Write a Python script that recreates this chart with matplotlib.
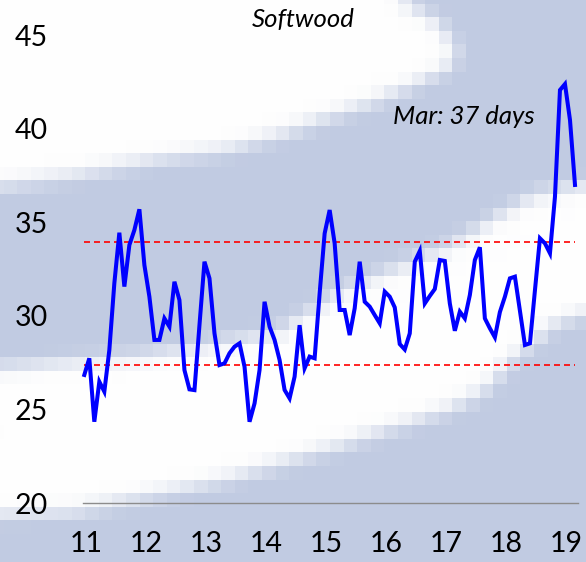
import numpy as np
import matplotlib
matplotlib.use("Agg")
import matplotlib.pyplot as plt

# ---------------- data ----------------
year_labels = ["11", "12", "13", "14", "15", "16", "17", "18", "19"]
softwood_days = [
    26.84, 27.73, 24.34, 26.48, 25.95, 28.17, 31.74, 34.44, 31.56, 33.78, 34.58, 35.69,   # 2011
    32.71, 31.02, 28.71, 28.71, 29.86, 29.42, 31.82, 30.84, 27.10, 26.07, 26.03, 29.50,   # 2012
    32.89, 32.00, 29.06, 27.37, 27.46, 28.00, 28.35, 28.53, 27.28, 24.34, 25.32, 27.10,   # 2013
    30.75, 29.42, 28.71, 27.64, 26.04, 25.59, 26.75, 29.50, 27.20, 27.82, 27.73, 31.20,   # 2014
    34.40, 35.65, 33.87, 30.31, 30.31, 28.97, 30.40, 32.89, 30.75, 30.49, 30.04, 29.60,   # 2015
    31.29, 31.02, 30.45, 28.49, 28.20, 29.06, 32.89, 33.46, 30.66, 31.06, 31.43, 32.98,   # 2016
    32.93, 30.66, 29.20, 30.22, 29.86, 31.11, 32.98, 33.66, 29.86, 29.33, 28.85, 30.20,   # 2017
    31.02, 32.00, 32.09, 30.27, 28.44, 28.53, 31.36, 34.14, 33.87, 33.34, 36.36, 42.06,   # 2018
    42.38, 40.46, 36.99,                                                                  # 2019
]
upper_band = 33.93
lower_band = 27.37
y_ticks = [20, 25, 30, 35, 40, 45]
title_text = "Softwood"
note_text = "Mar: 37 days"

# ---------------- figure ----------------
W, H = 586, 562
fig = plt.figure(figsize=(W / 100, H / 100), dpi=100)

# decorative blocky background (white swooshes on light blue)
Y, X = np.mgrid[0:H, 0:W].astype(float) + 0.5
gy = [0, 20, 50, 67, 83, 100, 117, 133, 150, 160, 175, 186]
gx = [400, 436, 458, 450, 418, 380, 330, 285, 228, 155, 78, 0]
A = (Y <= 186) & (X < np.interp(Y, gy, gx))
ux = [0, 150, 280, 340, 374, 450, 500, 533, 586]
uy = [368, 355, 332, 292, 277, 247, 215, 195, 185]
lx = [0, 75, 224, 336, 448, 486, 517, 550, 586]
ly = [515, 512, 480, 447, 410, 390, 355, 327, 313]
B = (Y > np.interp(X, ux, uy)) & (Y < np.interp(X, lx, ly))
m = (A | B).astype(float)


def box_blur(a, r):
    p = np.pad(a, ((r + 1, r), (0, 0)), mode="edge")
    c = np.cumsum(p, axis=0)
    a = (c[2 * r + 1:] - c[:-2 * r - 1]) / (2 * r + 1)
    p = np.pad(a, ((0, 0), (r + 1, r)), mode="edge")
    c = np.cumsum(p, axis=1)
    return (c[:, 2 * r + 1:] - c[:, :-2 * r - 1]) / (2 * r + 1)


m = box_blur(box_blur(m, 8), 8)
blk, ph = 13.6, 3.7
cy = np.clip((np.floor((np.arange(H) + 0.5 - ph) / blk) + 0.5) * blk + ph, 0, H - 1).astype(int)
cx = np.clip((np.floor((np.arange(W) + 0.5 - ph) / blk) + 0.5) * blk + ph, 0, W - 1).astype(int)
m = m[cy][:, cx]
blue = np.array([193, 203, 226]) / 255.0
white = np.array([254, 254, 254]) / 255.0
bg = blue[None, None, :] * (1 - m[..., None]) + white[None, None, :] * m[..., None]
fig.figimage(bg, xo=0, yo=0, origin="upper", zorder=-10)

# main axes: value 20 at y=503px, 45 at y=35px; x from 83px to 578px
ax = fig.add_axes([83 / W, (H - 503) / H, (578 - 83) / W, 468 / H])
ax.patch.set_visible(False)

months = np.arange(len(softwood_days))
ax.plot(months, softwood_days, color="#0000FF", lw=2.9, solid_joinstyle="miter",
        clip_on=False, zorder=3)
ax.hlines([upper_band, lower_band], months[0], months[-1], colors="#FF0000",
          lw=1.2, linestyles=(0, (3.6, 2.4)), zorder=2)

ax.set_xlim(-0.26, 98.6)
ax.set_ylim(20, 45)
ax.set_yticks(y_ticks)
ax.set_yticklabels([str(v) for v in y_ticks])
ax.set_xticks(np.arange(len(year_labels)) * 12 + 0.3)
ax.set_xticklabels(year_labels)

font = "Lato"
for s in ["top", "right", "left"]:
    ax.spines[s].set_visible(False)
ax.spines["bottom"].set_color("#8C8C8C")
ax.spines["bottom"].set_linewidth(1.0)
ax.tick_params(axis="both", length=0, labelsize=20.5, colors="black")
ax.tick_params(axis="y", pad=25)
ax.tick_params(axis="x", pad=20)
for lab in ax.get_xticklabels() + ax.get_yticklabels():
    lab.set_family(font)

fig.text(303 / W, 1 - 20 / H, title_text, ha="center", va="center",
         fontsize=18.5, style="italic", family=font)
fig.text(464 / W, 1 - 116 / H, note_text, ha="center", va="center",
         fontsize=18.5, style="italic", family=font)

fig.savefig("out.png", dpi=100)
